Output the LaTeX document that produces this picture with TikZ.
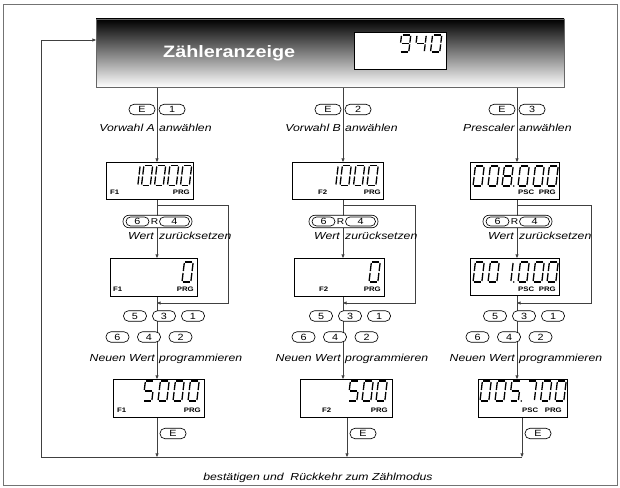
\documentclass[tikz,border=0pt]{standalone}
\usepackage{fontspec}
\newfontfamily\lbl[FakeStretch=1.2]{Liberation Sans}
\usetikzlibrary{arrows.meta,backgrounds}
\newcommand\segA{\draw (1.0,-20) -- (7.8,-20);}
\newcommand\segB{\draw (8.8,-19.0) -- (8.8,-11.0);}
\newcommand\segC{\draw (8.8,-9.0) -- (8.8,-1.0);}
\newcommand\segD{\draw (1.0,0) -- (7.8,0);}
\newcommand\segE{\draw (0,-9.0) -- (0,-1.0);}
\newcommand\segF{\draw (0,-19.0) -- (0,-11.0);}
\newcommand\segG{\draw (1.0,-10) -- (7.8,-10);}
\newcommand\segdig[5]{\begin{scope}[shift={(#1,#2)},xslant=0.12,xscale=#4,yscale=#5,line width=1.3pt]\ifcase#3 \segA\segB\segC\segD\segE\segF\or\segB\segC\or\segA\segB\segG\segE\segD\or\segA\segB\segG\segC\segD\or\segF\segG\segB\segC\or\segA\segF\segG\segC\segD\or\segA\segF\segE\segD\segC\segG\or\segA\segB\segC\or\segA\segB\segC\segD\segE\segF\segG\or\segA\segB\segC\segD\segF\segG\fi\end{scope}}
\newcommand\dg[3]{\segdig{#1}{#2}{#3}{1}{1}}
\newcommand\dpt[2]{\fill (#1,#2) circle (0.85);}
\tikzset{
 conn/.style={line width=0.75pt, draw=black!75},
 arr/.style={conn, -{Triangle[length=3.6pt,width=3pt]}},
 key/.style={draw, fill=white, line width=0.65pt, rounded corners=5pt, minimum height=10.5pt, minimum width=26pt, inner sep=0pt, font=\lbl\fontsize{9}{9}\selectfont},
 skey/.style={key, minimum width=23pt},
 grp/.style={draw, fill=white, line width=0.65pt, rounded corners=6pt, minimum width=69pt, minimum height=12.5pt, inner sep=0pt},
 gkey/.style={draw, line width=0.65pt, rounded corners=4.5pt, minimum height=9pt, inner sep=0pt, font=\lbl\fontsize{9}{9}\selectfont},
 lcd/.style={draw, fill=white, line width=0.8pt, inner sep=0pt, anchor=north west},
 lab/.style={font=\lbl\itshape\fontsize{10.2}{12}\selectfont, inner sep=0pt},
 tag/.style={font=\lbl\bfseries\fontsize{6.5}{8}\selectfont, inner sep=0pt},
 rtxt/.style={font=\lbl\fontsize{8.5}{9}\selectfont, inner sep=0pt},
}
\begin{document}
\begin{tikzpicture}[x=1pt,y=-1pt]
\useasboundingbox (0,0) rectangle (620,487);
\draw[black!55, line width=0.8pt] (3,4) rectangle (617,485);
% header
\node[draw=black!60, line width=0.8pt, top color=black, bottom color=white, minimum width=468pt, minimum height=68pt, inner sep=0pt] (hdr) at (330,53) {};
\node[font=\lbl\bfseries\fontsize{16.5}{18}\selectfont, text=white, anchor=base west, inner sep=0pt] (ttl) at (163,57) {Zähleranzeige};
\node[lcd, minimum width=92pt, minimum height=37pt] (hd) at (354,32) {};
\segdig{399.5}{52}{9}{1.05}{0.85}
\segdig{415}{52}{4}{1.05}{0.85}
\segdig{430.5}{52}{0}{1.05}{0.85}
% coordinates
\coordinate (L1) at (157,0); \coordinate (L2) at (343,0); \coordinate (L3) at (517,0);
\coordinate (M1) at (157,0); \coordinate (M2) at (347,0); \coordinate (M3) at (522,0);
\coordinate (bL) at (41,457); \coordinate (bR) at (522,457); \coordinate (hin) at (96,40);
\coordinate (p1a) at (157,205); \coordinate (p1b) at (157,303);
\coordinate (p2a) at (343,205); \coordinate (p2b) at (343,303);
\coordinate (p3a) at (517,205); \coordinate (p3b) at (517,303);
% ---------- column 1 ----------
\node[key] (k1e) at (142,109.5) {E};
\node[key] (k1n) at (172,109.5) {1};
\node[lab, anchor=base east] (v1a) at (155,131.5) {Vorwahl A};
\node[lab, anchor=base west] (v1b) at (159,131.5) {anwählen};
\node[lcd, minimum width=87pt, minimum height=37pt] (d11) at (106,162) {};
\dg{129}{185.5}{1}\dg{141.5}{185.5}{0}\dg{154.5}{185.5}{0}\dg{167.5}{185.5}{0}\dg{180.5}{185.5}{0}
\node[tag, anchor=base west] (t11a) at (110,194.5) {F1};
\node[tag, anchor=base east] (t11b) at (190,194.5) {PRG};
\node[grp] (g1) at (157.5,221.5) {};
\node[gkey, minimum width=23pt] (g1a) at (137.5,221.5) {6};
\node[rtxt] (g1r) at (154.5,221.5) {R};
\node[gkey, minimum width=30pt] (g1b) at (174.5,221.5) {4};
\node[lab, anchor=base east] (w1a) at (154,239) {Wert};
\node[lab, anchor=base west] (w1b) at (159,239) {zurücksetzen};
\node[lcd, minimum width=87pt, minimum height=38pt] (d12) at (110,258) {};
\dg{182}{282}{0}
\node[tag, anchor=base west] (t12a) at (113,291.5) {F1};
\node[tag, anchor=base east] (t12b) at (194,291.5) {PRG};
\node[skey] (r1a) at (135,316) {5};
\node[skey] (r1b) at (164,316) {3};
\node[skey] (r1c) at (193,316) {1};
\node[skey] (r1d) at (117.5,337) {6};
\node[skey] (r1e) at (149,337) {4};
\node[skey] (r1f) at (180.5,337) {2};
\node[lab, anchor=base east] (n1a) at (155,361) {Neuen Wert};
\node[lab, anchor=base west] (n1b) at (159,361) {programmieren};
\node[lcd, minimum width=91pt, minimum height=38pt] (d13) at (113,379) {};
\dg{143}{401}{5}\dg{158}{401}{0}\dg{173}{401}{0}\dg{188}{401}{0}
\node[tag, anchor=base west] (t13a) at (117,412.5) {F1};
\node[tag, anchor=base east] (t13b) at (201,412.5) {PRG};
\node[key] (e1) at (173,433.5) {E};
% ---------- column 2 ----------
\node[key] (k2e) at (328,109.5) {E};
\node[key] (k2n) at (358,109.5) {2};
\node[lab, anchor=base east] (v2a) at (341,131.5) {Vorwahl B};
\node[lab, anchor=base west] (v2b) at (345,131.5) {anwählen};
\node[lcd, minimum width=91pt, minimum height=37pt] (d21) at (292,162) {};
\dg{327}{185.5}{1}\dg{340}{185.5}{0}\dg{353.5}{185.5}{0}\dg{367}{185.5}{0}
\node[tag, anchor=base west] (t21a) at (318,194.5) {F2};
\node[tag, anchor=base east] (t21b) at (381,194.5) {PRG};
\node[grp] (g2) at (343.5,221.5) {};
\node[gkey, minimum width=23pt] (g2a) at (323.5,221.5) {6};
\node[rtxt] (g2r) at (340.5,221.5) {R};
\node[gkey, minimum width=30pt] (g2b) at (360.5,221.5) {4};
\node[lab, anchor=base east] (w2a) at (340,239) {Wert};
\node[lab, anchor=base west] (w2b) at (345,239) {zurücksetzen};
\node[lcd, minimum width=90pt, minimum height=38pt] (d22) at (294,258) {};
\dg{369}{282}{0}
\node[tag, anchor=base west] (t22a) at (319,291.5) {F2};
\node[tag, anchor=base east] (t22b) at (381,291.5) {PRG};
\node[skey] (r2a) at (321,316) {5};
\node[skey] (r2b) at (350,316) {3};
\node[skey] (r2c) at (379,316) {1};
\node[skey] (r2d) at (303.5,337) {6};
\node[skey] (r2e) at (335,337) {4};
\node[skey] (r2f) at (366.5,337) {2};
\node[lab, anchor=base east] (n2a) at (341,361) {Neuen Wert};
\node[lab, anchor=base west] (n2b) at (345,361) {programmieren};
\node[lcd, minimum width=92pt, minimum height=38pt] (d23) at (300,379) {};
\dg{348}{401}{5}\dg{362}{401}{0}\dg{376}{401}{0}
\node[tag, anchor=base west] (t23a) at (322,412.5) {F2};
\node[tag, anchor=base east] (t23b) at (388,412.5) {PRG};
\node[key] (e2) at (363,433.5) {E};
% ---------- column 3 ----------
\node[key] (k3e) at (502,109.5) {E};
\node[key] (k3n) at (532,109.5) {3};
\node[lab, anchor=base east] (v3a) at (515,131.5) {Prescaler};
\node[lab, anchor=base west] (v3b) at (519,131.5) {anwählen};
\node[lcd, minimum width=89pt, minimum height=37pt] (d31) at (470,162) {};
\dg{473}{186}{0}\dg{488}{186}{0}\dg{502}{186}{8}\dpt{513.8}{186}\dg{518}{186}{0}\dg{533}{186}{0}\dg{547}{186}{0}
\node[tag, anchor=base west] (t31a) at (518,194.5) {PSC};
\node[tag, anchor=base east] (t31b) at (556,194.5) {PRG};
\node[grp] (g3) at (517.5,221.5) {};
\node[gkey, minimum width=23pt] (g3a) at (497.5,221.5) {6};
\node[rtxt] (g3r) at (514.5,221.5) {R};
\node[gkey, minimum width=30pt] (g3b) at (534.5,221.5) {4};
\node[lab, anchor=base east] (w3a) at (514,239) {Wert};
\node[lab, anchor=base west] (w3b) at (519,239) {zurücksetzen};
\node[lcd, minimum width=89pt, minimum height=37pt] (d32) at (470,258) {};
\dg{473}{282}{0}\dg{488}{282}{0}\dg{502}{282}{1}\dpt{513.8}{282}\dg{518}{282}{0}\dg{533}{282}{0}\dg{547}{282}{0}
\node[tag, anchor=base west] (t32a) at (518,291.5) {PSC};
\node[tag, anchor=base east] (t32b) at (556,291.5) {PRG};
\node[skey] (r3a) at (495,316) {5};
\node[skey] (r3b) at (524,316) {3};
\node[skey] (r3c) at (553,316) {1};
\node[skey] (r3d) at (477.5,337) {6};
\node[skey] (r3e) at (509,337) {4};
\node[skey] (r3f) at (540.5,337) {2};
\node[lab, anchor=base east] (n3a) at (515,361) {Neuen Wert};
\node[lab, anchor=base west] (n3b) at (519,361) {programmieren};
\node[lcd, minimum width=89pt, minimum height=38pt] (d33) at (478,379) {};
\dg{480}{401}{0}\dg{495}{401}{0}\dg{509.5}{401}{5}\dpt{521.3}{401}\dg{525.5}{401}{7}\dg{540.5}{401}{0}\dg{555}{401}{0}
\node[tag, anchor=base west] (t33a) at (522,412.5) {PSC};
\node[tag, anchor=base east] (t33b) at (562,412.5) {PRG};
\node[key] (e3) at (538,433.5) {E};
% bottom text
\node[lab, anchor=base] (btxt) at (318,480) {bestätigen und~~Rückkehr zum Zählmodus};
% ---------- connectors ----------
\begin{scope}[on background layer]
\foreach \c in {1,2,3}{
  \draw[arr] (hdr.south -| L\c) -- (d\c1.north -| L\c);
  \draw[arr] (d\c1.south -| L\c) -- (d\c2.north -| L\c);
  \draw[arr] (d\c2.south -| L\c) -- (d\c3.north -| L\c);
  \draw[arr] (d\c3.south -| M\c) -- (M\c |- bL);
}
\draw[arr] (p1a) -- ++(71,0) |- (p1b);
\draw[arr] (p2a) -- ++(72,0) |- (p2b);
\draw[arr] (p3a) -- ++(74,0) |- (p3b);
\draw[conn] (bR) -- (bL);
\draw[arr] (bL) |- (hin);
\end{scope}
\end{tikzpicture}
\end{document}
